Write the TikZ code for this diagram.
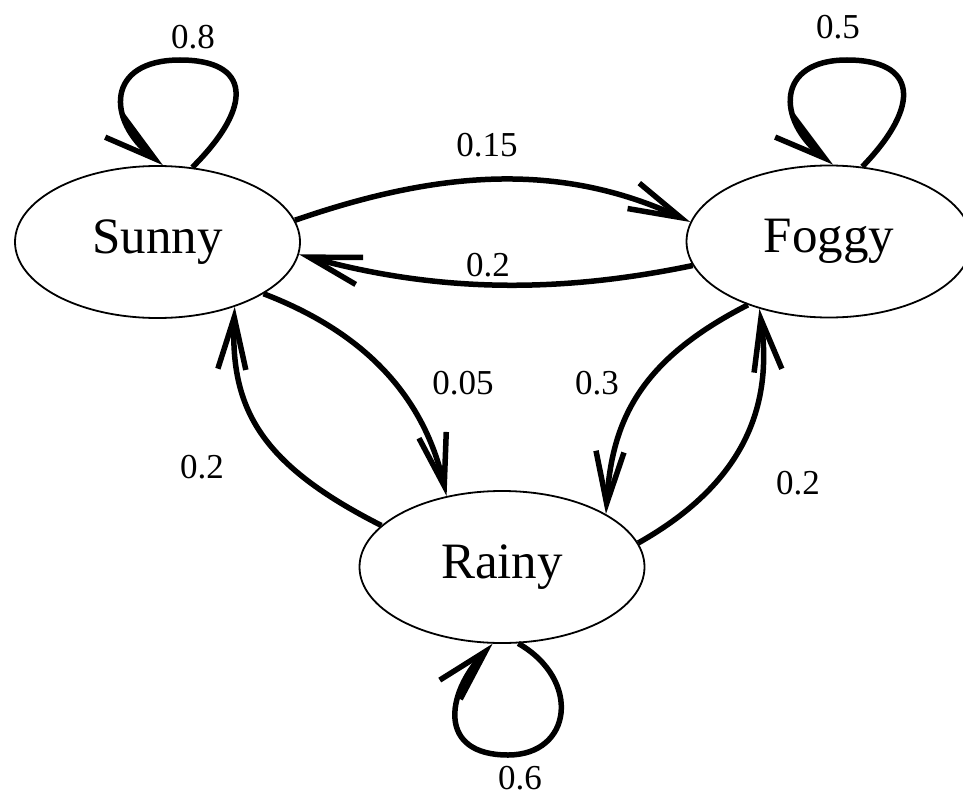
\documentclass[tikz,border=0pt]{standalone}
\usepackage{fontspec}
\setmainfont{Liberation Serif}
\usetikzlibrary{arrows.meta,shapes.geometric}
\begin{document}
\begin{tikzpicture}[x=1pt,y=-1pt,
  state/.style={ellipse,draw,line width=1.8pt,minimum width=285pt,minimum height=152pt,inner sep=0pt,font=\fontsize{51}{60}\selectfont},
  trans/.style={line width=5.5pt,-{Straight Barb[length=52pt,width=28pt]}},
  prob/.style={font=\fontsize{35}{42}\selectfont,inner sep=0pt}]
\useasboundingbox (0,0) rectangle (963,800);
\node[state] (sunny) at (157.5,242) {Sunny};
\node[state] (foggy) at (829,241.5) {Foggy};
\node[state] (rainy) at (502,567) {Rainy};
% self loops
\draw[trans] (sunny.65) .. controls (255,105) and (250,60) .. (180,60)
  .. controls (106,60) and (106,120) .. (sunny.86);
\draw[trans] (foggy.66) .. controls (922,105) and (917,60) .. (847,60)
  .. controls (776,60) and (776,120) .. (foggy.87);
\draw[trans] (rainy.-78) .. controls (582,680) and (572,755) .. (508,755)
  .. controls (438,755) and (445,695) .. (rainy.-97);
% transitions
\draw[trans] (sunny.9) .. controls (440,170) and (560,162) .. (foggy.172);
\draw[trans] (foggy.-170) .. controls (560,293) and (440,293) .. (sunny.-5);
\draw[trans] (sunny.-26) .. controls (345,325) and (420,380) .. (rainy.128);
\draw[trans] (rainy.161) .. controls (262,465) and (230,410) .. (sunny.-40);
\draw[trans] (foggy.-142) .. controls (640,360) and (612,420) .. (rainy.27);
\draw[trans] (rainy.10) .. controls (750,480) and (772,400) .. (foggy.-136);
% labels
\node[prob] (l08) at (193,37) {0.8};
\node[prob] (l05) at (838,27) {0.5};
\node[prob] (l015) at (487,145) {0.15};
\node[prob] (l02a) at (488,265) {0.2};
\node[prob] (l005) at (463,383) {0.05};
\node[prob] (l03) at (597,383) {0.3};
\node[prob] (l02b) at (202,467) {0.2};
\node[prob] (l02c) at (798,483) {0.2};
\node[prob] (l06) at (520,778) {0.6};
\end{tikzpicture}
\end{document}
